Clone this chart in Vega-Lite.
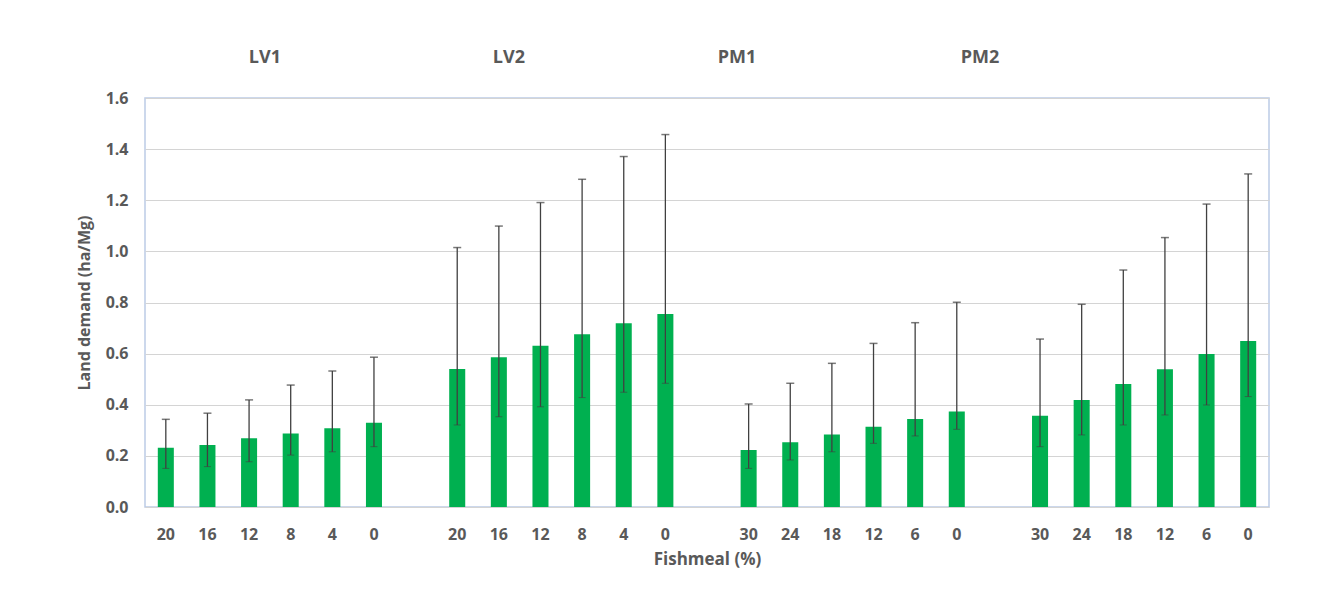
{
  "$schema": "https://vega.github.io/schema/vega-lite/v6.json",
  "autosize": {"type": "none"},
  "width": 1124,
  "height": 409,
  "padding": {"left": 145, "top": 98, "right": 53, "bottom": 89},
  "background": "white",
  "config": {
    "font": "Open Sans",
    "view": {"stroke": "#bccbe6", "strokeWidth": 1.5},
    "axis": {"labelColor": "#595959", "titleColor": "#595959", "labelFont": "Open Sans", "titleFont": "Open Sans", "labelFontWeight": "bold", "titleFontWeight": "bold"}
  },
  "datasets": {
    "bars": [
      {"key": "LV1|20", "group": "LV1", "fishmeal": 20, "value": 0.232, "lo": 0.151, "hi": 0.343},
      {"key": "LV1|16", "group": "LV1", "fishmeal": 16, "value": 0.243, "lo": 0.158, "hi": 0.367},
      {"key": "LV1|12", "group": "LV1", "fishmeal": 12, "value": 0.269, "lo": 0.177, "hi": 0.419},
      {"key": "LV1|8", "group": "LV1", "fishmeal": 8, "value": 0.288, "lo": 0.203, "hi": 0.477},
      {"key": "LV1|4", "group": "LV1", "fishmeal": 4, "value": 0.308, "lo": 0.216, "hi": 0.532},
      {"key": "LV1|0", "group": "LV1", "fishmeal": 0, "value": 0.330, "lo": 0.236, "hi": 0.586},
      {"key": "LV2|20", "group": "LV2", "fishmeal": 20, "value": 0.540, "lo": 0.321, "hi": 1.015},
      {"key": "LV2|16", "group": "LV2", "fishmeal": 16, "value": 0.586, "lo": 0.353, "hi": 1.099},
      {"key": "LV2|12", "group": "LV2", "fishmeal": 12, "value": 0.631, "lo": 0.392, "hi": 1.191},
      {"key": "LV2|8", "group": "LV2", "fishmeal": 8, "value": 0.676, "lo": 0.428, "hi": 1.282},
      {"key": "LV2|4", "group": "LV2", "fishmeal": 4, "value": 0.719, "lo": 0.449, "hi": 1.371},
      {"key": "LV2|0", "group": "LV2", "fishmeal": 0, "value": 0.755, "lo": 0.484, "hi": 1.457},
      {"key": "PM1|30", "group": "PM1", "fishmeal": 30, "value": 0.223, "lo": 0.151, "hi": 0.403},
      {"key": "PM1|24", "group": "PM1", "fishmeal": 24, "value": 0.253, "lo": 0.184, "hi": 0.484},
      {"key": "PM1|18", "group": "PM1", "fishmeal": 18, "value": 0.284, "lo": 0.216, "hi": 0.562},
      {"key": "PM1|12", "group": "PM1", "fishmeal": 12, "value": 0.314, "lo": 0.249, "hi": 0.640},
      {"key": "PM1|6", "group": "PM1", "fishmeal": 6, "value": 0.344, "lo": 0.278, "hi": 0.721},
      {"key": "PM1|0", "group": "PM1", "fishmeal": 0, "value": 0.374, "lo": 0.304, "hi": 0.801},
      {"key": "PM2|30", "group": "PM2", "fishmeal": 30, "value": 0.357, "lo": 0.236, "hi": 0.657},
      {"key": "PM2|24", "group": "PM2", "fishmeal": 24, "value": 0.419, "lo": 0.282, "hi": 0.793},
      {"key": "PM2|18", "group": "PM2", "fishmeal": 18, "value": 0.481, "lo": 0.321, "hi": 0.927},
      {"key": "PM2|12", "group": "PM2", "fishmeal": 12, "value": 0.539, "lo": 0.360, "hi": 1.054},
      {"key": "PM2|6", "group": "PM2", "fishmeal": 6, "value": 0.599, "lo": 0.399, "hi": 1.185},
      {"key": "PM2|0", "group": "PM2", "fishmeal": 0, "value": 0.649, "lo": 0.432, "hi": 1.303}
    ],
    "groups": [
      {"group": "LV1", "pos": 2.88},
      {"group": "LV2", "pos": 8.74},
      {"group": "PM1", "pos": 14.22},
      {"group": "PM2", "pos": 20.06}
    ]
  },
  "layer": [
    {
      "data": {"name": "bars"},
      "encoding": {
        "x": {
          "field": "key",
          "type": "nominal",
          "sort": null,
          "scale": {
            "type": "band",
            "domain": ["LV1|20", "LV1|16", "LV1|12", "LV1|8", "LV1|4", "LV1|0", "gap1",
                       "LV2|20", "LV2|16", "LV2|12", "LV2|8", "LV2|4", "LV2|0", "gap2",
                       "PM1|30", "PM1|24", "PM1|18", "PM1|12", "PM1|6", "PM1|0", "gap3",
                       "PM2|30", "PM2|24", "PM2|18", "PM2|12", "PM2|6", "PM2|0"],
            "paddingInner": 0.615,
            "paddingOuter": 0.3075
          },
          "axis": {
            "title": "Fishmeal (%)",
            "labelExpr": "indexof(datum.value, '|') >= 0 ? split(datum.value, '|')[1] : ''",
            "labelAngle": 0,
            "labelFontSize": 16,
            "titleFontSize": 17,
            "ticks": false,
            "domain": false,
            "labelPadding": 19,
            "titlePadding": 9
          }
        }
      },
      "layer": [
        {
          "mark": {"type": "bar", "color": "#00b050"},
          "encoding": {
            "y": {
              "field": "value",
              "type": "quantitative",
              "scale": {"domain": [0, 1.6], "nice": false},
              "axis": {
                "title": "Land demand (ha/Mg)",
                "values": [0, 0.2, 0.4, 0.6, 0.8, 1.0, 1.2, 1.4, 1.6],
                "format": ".1f",
                "labelFontSize": 16,
                "titleFontSize": 16,
                "ticks": false,
                "domain": false,
                "gridColor": "#d4d4d4",
                "gridWidth": 1.2,
                "labelPadding": 17,
                "titlePadding": 13
              }
            }
          }
        },
        {
          "mark": {"type": "rule", "color": "#404040", "strokeWidth": 1.3},
          "encoding": {
            "y": {"field": "lo", "type": "quantitative"},
            "y2": {"field": "hi"}
          }
        },
        {
          "mark": {"type": "tick", "color": "#404040", "size": 8, "thickness": 1.5, "orient": "horizontal"},
          "encoding": {"y": {"field": "hi", "type": "quantitative"}}
        },
        {
          "mark": {"type": "tick", "color": "#404040", "size": 7, "thickness": 1, "opacity": 0.6, "orient": "horizontal"},
          "encoding": {"y": {"field": "lo", "type": "quantitative"}}
        }
      ]
    },
    {
      "data": {"name": "groups"},
      "mark": {"type": "text", "fontSize": 18, "fontWeight": "bold", "color": "#595959", "baseline": "middle", "align": "center", "dy": -40, "font": "Open Sans"},
      "encoding": {
        "x": {"field": "pos", "type": "quantitative", "scale": {"domain": [0, 27], "nice": false, "zero": false}, "axis": null},
        "y": {"datum": 1.6, "type": "quantitative"},
        "text": {"field": "group"}
      }
    }
  ],
  "resolve": {"scale": {"x": "independent"}}
}
